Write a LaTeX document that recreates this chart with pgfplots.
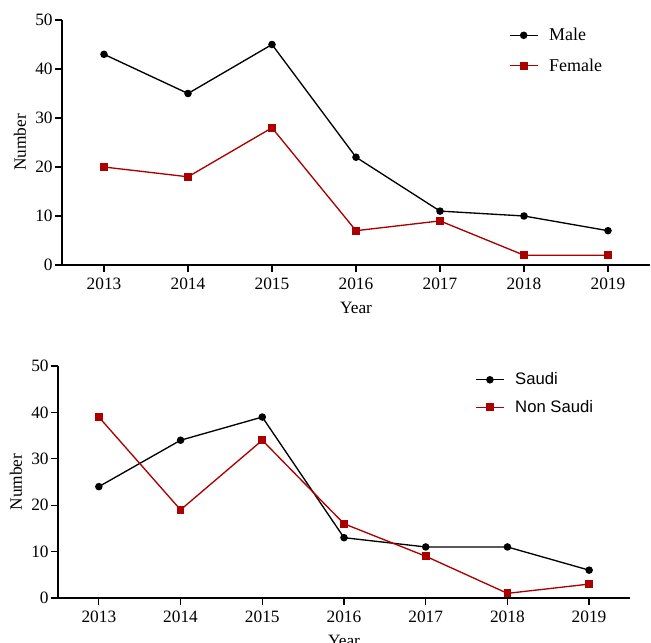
\documentclass[border=0pt]{standalone}
\usepackage{pgfplots}
\pgfplotsset{compat=1.18}
\usepackage{fontspec}
\setmainfont{Liberation Serif}
\setsansfont{Liberation Sans}
\definecolor{darkred}{RGB}{170,0,0}
\begin{document}
\begin{tikzpicture}
\useasboundingbox (0pt,0pt) rectangle (488.25pt,482.25pt);
\pgfplotsset{
  myaxis/.style={
    scale only axis,
    axis lines=left,
    axis line style={line width=1.1pt,-},
    xmin=2012.5, xmax=2019.5,
    ymin=0, ymax=50,
    xtick={2013,...,2019},
    ytick={0,10,...,50},
    xticklabel style={/pgf/number format/1000 sep={}, yshift=-1pt},
    yticklabel style={xshift=1.5pt},
    /pgf/number format/assume math mode=true,
    tick style={line width=0.9pt,black},
    major tick length=5pt,
    tick align=outside,
    ticklabel style={font=\fontsize{13}{13}\selectfont},
    label style={font=\fontsize{13}{13}\selectfont},
    xlabel style={yshift=-3pt},
    xlabel={Year},
    ylabel={Number},
    legend style={draw=none, fill=none, row sep=8pt, font=\fontsize{13.5}{13.5}\selectfont, anchor=north west,
      /tikz/every odd column/.append style={column sep=6pt}},
    legend cell align=left,
    legend image code/.code={\draw[##1, mark=none] (0pt,0pt) -- (21pt,0pt);
      \path[##1, only marks] plot coordinates {(10.5pt,0pt)};},
    clip=false,
  },
  male/.style={black, line width=1pt, mark=*, mark size=2.3pt},
  female/.style={darkred, line width=1pt, mark=square*, mark size=2.4pt},
}
\begin{axis}[myaxis, at={(46.5pt,283.5pt)}, anchor=south west, width=441pt, height=183.75pt,
  legend style={at={(0.753,0.99)}}]
\addplot[male] coordinates {(2013,43) (2014,35) (2015,45) (2016,22) (2017,11) (2018,10) (2019,7)};
\addlegendentry{Male}
\addplot[female] coordinates {(2013,20) (2014,18) (2015,28) (2016,7) (2017,9) (2018,2) (2019,2)};
\addlegendentry{Female}
\end{axis}
\begin{axis}[myaxis, at={(43.5pt,33.75pt)}, anchor=south west, width=429pt, height=174pt,
  legend style={at={(0.722,0.995)}, font=\sffamily\fontsize{12.5}{12.5}\selectfont, row sep=6pt}]
\addplot[male] coordinates {(2013,24) (2014,34) (2015,39) (2016,13) (2017,11) (2018,11) (2019,6)};
\addlegendentry{Saudi}
\addplot[female] coordinates {(2013,39) (2014,19) (2015,34) (2016,16) (2017,9) (2018,1) (2019,3)};
\addlegendentry{Non Saudi}
\end{axis}
\end{tikzpicture}
\end{document}
